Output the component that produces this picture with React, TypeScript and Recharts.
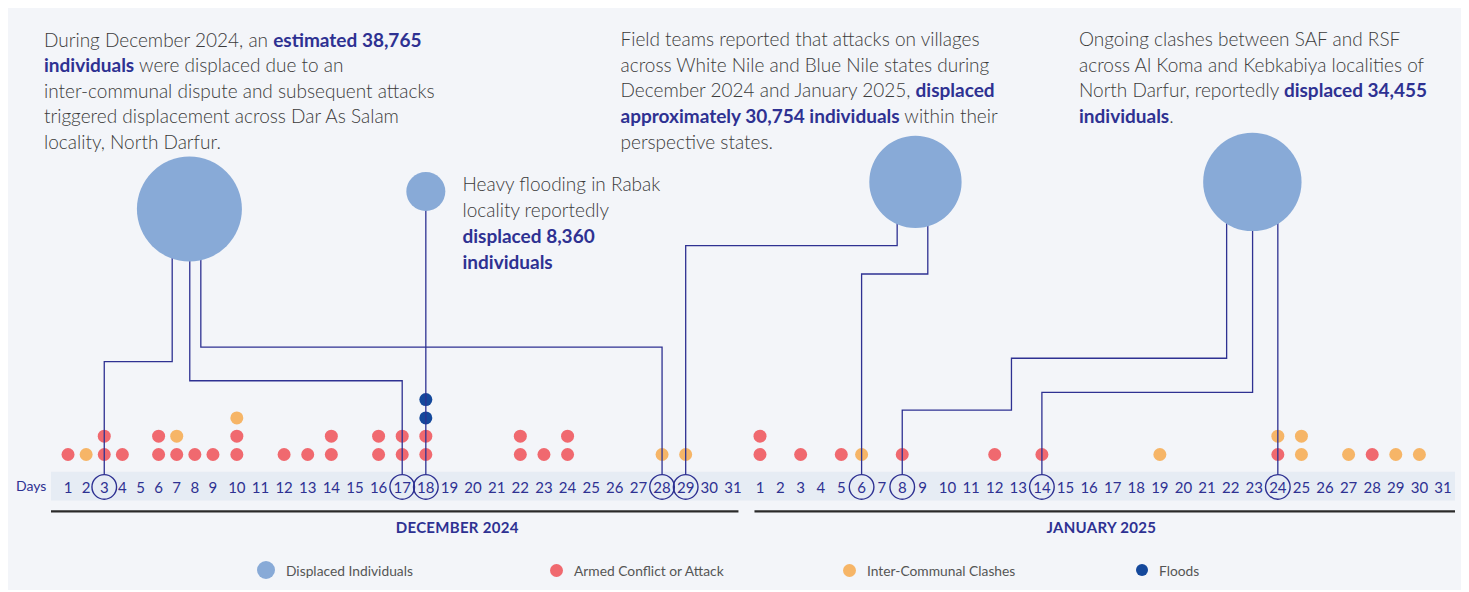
import React from "react";
import {
  ScatterChart,
  Scatter,
  XAxis,
  YAxis,
  ZAxis,
  ReferenceArea,
  ReferenceLine,
  Legend,
} from "recharts";

// palette
const NAVY = "#2e3192";
const RED = "#f0696f";
const ORANGE = "#f6b567";
const FLOOD = "#14489b";
const BUBBLE = "#88aad7";
const TEXT = "#3b3b3b";
const PANEL = "#f3f5f9";
const BAND = "#e6ecf4";
const FONT = "Lato, 'Open Sans', sans-serif";

const MONTHS = ["DECEMBER 2024", "JANUARY 2025"];
const DAYS_DEC = Array.from({ length: 31 }, (_, i) => String(i + 1));
const DAYS_JAN = Array.from({ length: 31 }, (_, i) => String(i + 1));

// [day, number of reported events]
const ARMED_DEC = [[1, 1], [3, 2], [4, 1], [6, 2], [7, 1], [8, 1], [9, 1], [10, 2], [12, 1], [13, 1], [14, 2], [16, 2], [17, 2], [18, 2], [22, 2], [23, 1], [24, 2]];
const CLASH_DEC = [[2, 1], [7, 1], [10, 1], [28, 1], [29, 1]];
const FLOOD_DEC = [[18, 2]];
const ARMED_JAN = [[1, 2], [3, 1], [5, 1], [8, 1], [12, 1], [14, 1], [24, 1], [28, 1]];
const CLASH_JAN = [[6, 1], [19, 1], [24, 1], [25, 2], [27, 1], [29, 1], [30, 1]];
const FLOOD_JAN: number[][] = [];

// displacement callouts: month index, (fractional) day, row, people displaced
const DISPLACED = [
  { m: 0, d: 7.7, row: 14.41, value: 38765 },
  { m: 0, d: 18, row: 15.37, value: 8360 },
  { m: 1, d: 8.65, row: 15.89, value: 30754 },
  { m: 1, d: 22.92, row: 15.89, value: 34455 },
];

const CIRCLE_TOP = -0.09;
// connector paths [month, day, row] from a bubble to the circled day
const CONNECTORS = [
  [[0, 6.75, 14.41], [0, 6.75, 6.07], [0, 3, 6.07], [0, 3, CIRCLE_TOP]],
  [[0, 7.72, 14.41], [0, 7.72, 5.03], [0, 17, 5.03], [0, 17, CIRCLE_TOP]],
  [[0, 8.33, 14.41], [0, 8.33, 6.87], [0, 28, 6.87], [0, 28, CIRCLE_TOP]],
  [[0, 18, 15.37], [0, 18, CIRCLE_TOP]],
  [[1, 7.75, 15.89], [1, 7.75, 12.41], [0, 29, 12.41], [0, 29, CIRCLE_TOP]],
  [[1, 9.21, 15.89], [1, 9.21, 10.86], [1, 6, 10.86], [1, 6, CIRCLE_TOP]],
  [[1, 21.83, 15.89], [1, 21.83, 6.26], [1, 12.71, 6.26], [1, 12.71, 3.42], [1, 8, 3.42], [1, 8, CIRCLE_TOP]],
  [[1, 22.93, 15.89], [1, 22.93, 4.4], [1, 14, 4.4], [1, 14, CIRCLE_TOP]],
  [[1, 24, 15.89], [1, 24, CIRCLE_TOP]],
];
const CIRCLED = [[0, 3], [0, 17], [0, 18], [0, 28], [0, 29], [1, 6], [1, 8], [1, 14], [1, 24]];

const LEGEND_ITEMS = [
  { label: "Displaced Individuals", color: BUBBLE, r: 9 },
  { label: "Armed Conflict or Attack", color: RED, r: 6.5 },
  { label: "Inter-Communal Clashes", color: ORANGE, r: 6.5 },
  { label: "Floods", color: FLOOD, r: 6 },
];

const NOTES = [
  {
    left: 36, top: 20.5, lh: 25.6,
    lines: [
      "During December 2024, an **estimated 38,765**",
      "**individuals** were displaced due to an",
      "inter-communal dispute and subsequent attacks",
      "triggered displacement across Dar As Salam",
      "locality, North Darfur.",
    ],
  },
  {
    left: 454.5, top: 165.3, lh: 26,
    lines: ["Heavy flooding in Rabak", "locality reportedly", "**displaced 8,360**", "**individuals**"],
  },
  {
    left: 612.5, top: 20.3, lh: 25.6,
    lines: [
      "Field teams reported that attacks on villages",
      "across White Nile and Blue Nile states during",
      "December 2024 and January 2025, **displaced**",
      "**approximately 30,754 individuals** within their",
      "perspective states.",
    ],
  },
  {
    left: 1071, top: 20.3, lh: 25.6,
    lines: [
      "Ongoing clashes between SAF and RSF",
      "across Al Koma and Kebkabiya localities of",
      "North Darfur, reportedly **displaced 34,455**",
      "**individuals**.",
    ],
  },
];

// day slots are spaced like a typeset row of numbers: wider labels take more room
const MONTH_CHAR_W = [5.5, 3.27];
const MONTH_TRACKING = [12.6, 17.03];
const WIDTH_CHANGE_GAP = 3;
const MONTH_GAP = 5.1;
const LABELS = [...DAYS_DEC, ...DAYS_JAN];
const POS: number[] = [];
LABELS.forEach((l, i) => {
  if (i === 0) {
    POS.push(0);
    return;
  }
  const prev = LABELS[i - 1];
  const m = i < DAYS_DEC.length ? 0 : 1;
  const monthStart = i === DAYS_DEC.length;
  POS.push(
    POS[i - 1] +
      ((prev.length + l.length) / 2) * MONTH_CHAR_W[m] +
      MONTH_TRACKING[m] +
      (monthStart ? MONTH_GAP : prev.length !== l.length ? WIDTH_CHANGE_GAP : 0)
  );
});

const dayX = (m: number, d: number) => {
  const f = m * DAYS_DEC.length + d - 1;
  const i = Math.min(Math.floor(f), POS.length - 2);
  return POS[i] + (POS[i + 1] - POS[i]) * (f - i);
};

const X_DOMAIN = [-17, POS[POS.length - 1] + 12];
const Y_DOMAIN = [-6.4, 25.5];
const LABEL_ROW = -0.77;
const UNDERLINE_ROW = -2.11;
const MONTH_ROW = -2.96;

function stackEvents(m: number, armed: number[][], clash: number[][], flood: number[][]) {
  const height: Record<number, number> = {};
  const out: { kind: string; x: number; y: number }[] = [];
  const add = (list: number[][], kind: string) => {
    list.forEach(([day, n]) => {
      for (let k = 0; k < n; k++) {
        height[day] = (height[day] || 0) + 1;
        out.push({ kind, x: dayX(m, day), y: height[day] });
      }
    });
  };
  add(armed, "armed");
  add(clash, "clash");
  add(flood, "flood");
  return out;
}

const events = [
  ...stackEvents(0, ARMED_DEC, CLASH_DEC, FLOOD_DEC),
  ...stackEvents(1, ARMED_JAN, CLASH_JAN, FLOOD_JAN),
];
const armedData = events.filter((e) => e.kind === "armed");
const clashData = events.filter((e) => e.kind === "clash");
const floodData = events.filter((e) => e.kind === "flood");

const dayData = LABELS.map((label, i) => {
  const m = i < DAYS_DEC.length ? 0 : 1;
  const d = Number(label);
  return { x: POS[i], y: LABEL_ROW, label, circled: CIRCLED.some(([cm, cd]) => cm === m && cd === d) };
});

const bubbleData = DISPLACED.map((b) => ({ x: dayX(b.m, b.d), y: b.row, z: b.value }));
const connectorData = CONNECTORS.map((path) => path.map(([m, d, row]) => ({ x: dayX(m, d), y: row })));
const monthData = [
  { x: dayX(0, 19.33), y: MONTH_ROW, label: MONTHS[0] },
  { x: dayX(1, 16.52), y: MONTH_ROW, label: MONTHS[1] },
];
const monthBreak = (POS[DAYS_DEC.length - 1] + POS[DAYS_DEC.length]) / 2;

const dot = (color: string) => (p: any) => <circle cx={p.cx} cy={p.cy} r={6.5} fill={color} />;

const DayLabel = (p: any) => (
  <g>
    {p.payload.circled && (
      <circle cx={p.cx} cy={p.cy} r={12.3} fill="none" stroke={NAVY} strokeWidth={1.4} />
    )}
    <text x={p.cx} y={p.cy} textAnchor="middle" dominantBaseline="central" fontSize={15} fill={NAVY} fontFamily={FONT}>
      {p.payload.label}
    </text>
  </g>
);

const MonthLabel = (p: any) => (
  <text
    x={p.cx}
    y={p.cy}
    textAnchor="middle"
    dominantBaseline="central"
    fontSize={15}
    fontWeight={700}
    letterSpacing={0.3}
    fill={NAVY}
    fontFamily={FONT}
  >
    {p.payload.label}
  </text>
);

function renderLine(line: string) {
  return line.split("**").map((part, i) =>
    i % 2 === 1 ? (
      <span key={i} style={{ color: NAVY, fontWeight: 700 }}>{part}</span>
    ) : (
      <span key={i}>{part}</span>
    )
  );
}

const renderLegend = () => (
  <div style={{ display: "flex", fontFamily: FONT }}>
    {LEGEND_ITEMS.map((item) => (
      <div key={item.label} style={{ width: 293, display: "flex", alignItems: "center", height: 20 }}>
        <span
          style={{
            width: item.r * 2,
            height: item.r * 2,
            borderRadius: "50%",
            background: item.color,
            display: "inline-block",
            marginRight: 11,
          }}
        />
        <span style={{ fontSize: 13.8, color: "#555" }}>{item.label}</span>
      </div>
    ))}
  </div>
);

export default function App() {
  return (
    <div style={{ position: "relative", width: 1454, height: 584, background: PANEL, marginTop: -2, fontFamily: FONT }}>
      <ScatterChart width={1454} height={584} margin={{ top: 0, right: 7, bottom: 0, left: 43 }}>
        <XAxis type="number" dataKey="x" domain={X_DOMAIN} allowDataOverflow hide />
        <YAxis type="number" dataKey="y" domain={Y_DOMAIN} allowDataOverflow hide />
        <ZAxis zAxisId="b" type="number" dataKey="z" domain={[8360, 38765]} range={[Math.PI * 19.5 * 19.5, Math.PI * 52.5 * 52.5]} />
        <ReferenceArea x1={X_DOMAIN[0]} x2={X_DOMAIN[1]} y1={-1.51} y2={0.06} fill={BAND} fillOpacity={1} stroke="none" ifOverflow="visible" />
        <ReferenceLine
          segment={[{ x: X_DOMAIN[0], y: UNDERLINE_ROW }, { x: monthBreak - 8, y: UNDERLINE_ROW }]}
          stroke="#2a2a2a"
          strokeWidth={2.2}
          ifOverflow="visible"
        />
        <ReferenceLine
          segment={[{ x: monthBreak + 8, y: UNDERLINE_ROW }, { x: X_DOMAIN[1], y: UNDERLINE_ROW }]}
          stroke="#2a2a2a"
          strokeWidth={2.2}
          ifOverflow="visible"
        />
        <Scatter data={dayData} shape={DayLabel} isAnimationActive={false} legendType="none" />
        <Scatter name="Armed Conflict or Attack" data={armedData} shape={dot(RED)} fill={RED} isAnimationActive={false} />
        <Scatter name="Inter-Communal Clashes" data={clashData} shape={dot(ORANGE)} fill={ORANGE} isAnimationActive={false} />
        <Scatter name="Floods" data={floodData} shape={dot(FLOOD)} fill={FLOOD} isAnimationActive={false} />
        {connectorData.map((pts, i) => (
          <Scatter
            key={i}
            data={pts}
            line={{ stroke: NAVY, strokeWidth: 1.3, fill: "none" }}
            lineType="joint"
            shape={() => <g />}
            fill={NAVY}
            isAnimationActive={false}
            legendType="none"
          />
        ))}
        <Scatter name="Displaced Individuals" data={bubbleData} zAxisId="b" fill={BUBBLE} shape="circle" isAnimationActive={false} />
        <Scatter data={monthData} shape={MonthLabel} isAnimationActive={false} legendType="none" />
        <Legend
          layout="horizontal"
          verticalAlign="middle"
          align="center"
          wrapperStyle={{ top: 554, left: 249, width: 1200, height: 20 }}
          content={renderLegend}
        />
      </ScatterChart>

      <div style={{ position: "absolute", left: 8, top: 470, lineHeight: "20px", fontSize: 14, color: NAVY }}>Days</div>

      {NOTES.map((n, i) => (
        <div
          key={i}
          style={{
            position: "absolute",
            left: n.left,
            top: n.top,
            fontSize: 19,
            fontWeight: 300,
            lineHeight: `${n.lh}px`,
            color: TEXT,
            whiteSpace: "nowrap",
          }}
        >
          {n.lines.map((l, j) => (
            <div key={j}>{renderLine(l)}</div>
          ))}
        </div>
      ))}
    </div>
  );
}
